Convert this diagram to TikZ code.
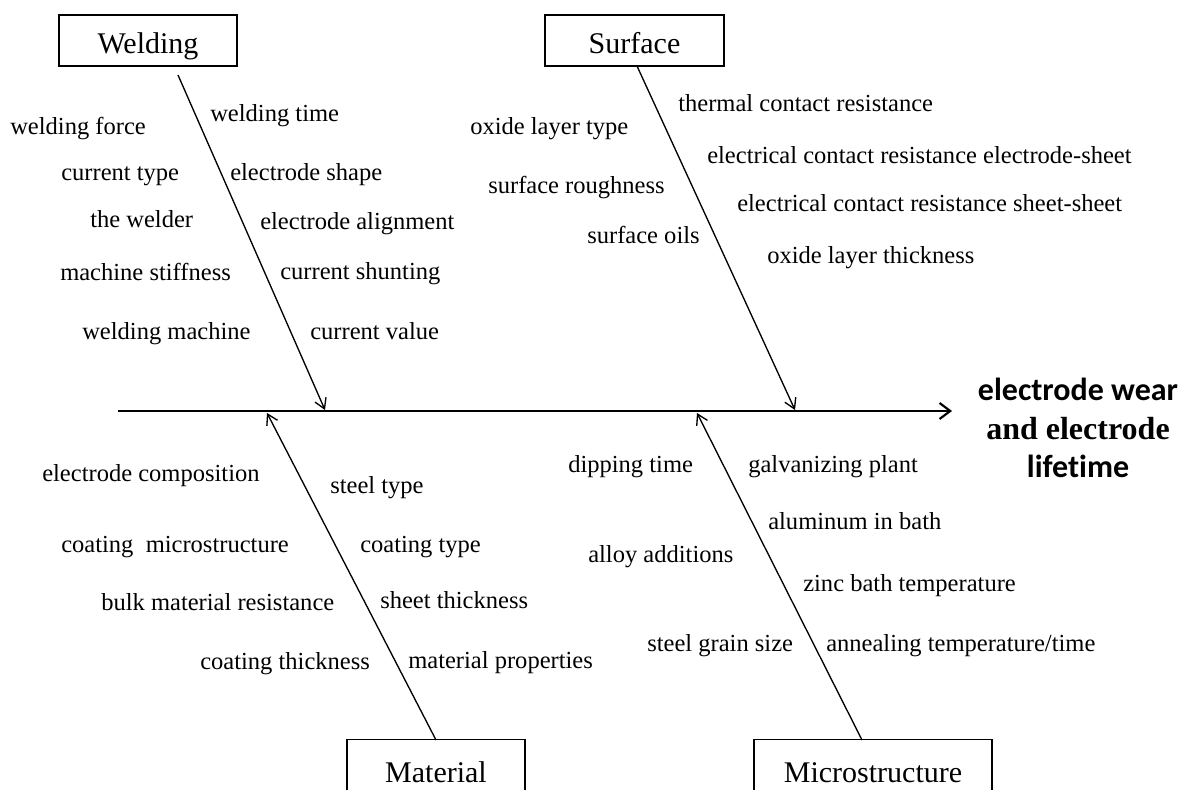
\documentclass[tikz,border=0pt]{standalone}
\usepackage{fontspec}
\setmainfont{Liberation Serif}
\newfontfamily\lblsans[Ligatures=NoCommon]{Carlito}
\usetikzlibrary{arrows.meta}
\tikzset{
  cat/.style={draw, line width=1pt, inner sep=0pt, text height=19pt, text depth=0.2pt, font=\fontsize{22.5}{26}\selectfont},
  cause/.style={anchor=west, inner sep=0pt, text height=7.2pt, text depth=2.2pt, yshift=-3pt, font=\fontsize{18.4}{22}\selectfont},
  branch/.style={line width=1pt, -{Straight Barb[length=7.5pt,width=9pt,line width=1pt]}},
  spine/.style={line width=1.9pt, -{Straight Barb[length=8pt,width=12pt,line width=1.6pt]}}
}
\begin{document}
\begin{tikzpicture}[x=0.75pt,y=-0.75pt]
\clip (0,0) rectangle (1184,789);
\fill[white] (0,0) rectangle (1184,789);

% category boxes
\node[cat, minimum width=178*0.75pt, minimum height=51*0.75pt] (wb) at (148,40.5) {Welding};
\node[cat, minimum width=179*0.75pt, minimum height=51*0.75pt] (sb) at (634.5,40.5) {Surface};
\node[cat, minimum width=178*0.75pt, minimum height=60*0.75pt] (mb) at (436,769.5) {Material};
\node[cat, minimum width=238*0.75pt, minimum height=60*0.75pt] (xb) at (873,769.5) {Microstructure};

% spine
\coordinate (s0) at (118,411);
\node[inner sep=0pt] (head) at (952,411) {};
\draw[spine] (s0) -- (head.center);

% effect label
\node[align=center, inner sep=0pt, font=\fontsize{24}{29}\selectfont] (eff) at (1078,428)
  {{\lblsans\bfseries electrode wear}\\{\bfseries and electrode}\\{\lblsans\bfseries lifetime}};

% branch endpoints
\coordinate (w0) at (178,75);  \coordinate (w1) at (325,410);
\coordinate (su0) at (637,66); \coordinate (su1) at (795,410);
\coordinate (m0) at (436,740); \coordinate (m1) at (267,413);
\coordinate (x0) at (862,740); \coordinate (x1) at (697,413);
\draw[branch] (w0) -- (w1);
\draw[branch] (su0) -- (su1);
\draw[branch] (m0) -- (m1);
\draw[branch] (x0) -- (x1);

% Welding causes
\node[cause] (w1a) at (10,127) {welding force};
\node[cause] (w2a) at (61,173) {current type};
\node[cause] (w3a) at (90,220) {the welder};
\node[cause] (w4a) at (60,273) {machine stiffness};
\node[cause] (w5a) at (82,332) {welding machine};
\node[cause] (w1b) at (210,114) {welding time};
\node[cause] (w2b) at (230,173) {electrode shape};
\node[cause] (w3b) at (260,222) {electrode alignment};
\node[cause] (w4b) at (280,272) {current shunting};
\node[cause] (w5b) at (310,332) {current value};

% Surface causes
\node[cause] (s1a) at (470,127) {oxide layer type};
\node[cause] (s2a) at (488,186) {surface roughness};
\node[cause] (s3a) at (587,236) {surface oils};
\node[cause] (s1b) at (678,104) {thermal contact resistance};
\node[cause] (s2b) at (707,156) {electrical contact resistance electrode-sheet};
\node[cause] (s3b) at (737,204) {electrical contact resistance sheet-sheet};
\node[cause] (s4b) at (767,256) {oxide layer thickness};

% Material causes
\node[cause] (m1a) at (42,474) {electrode composition};
\node[cause] (m2a) at (61,545) {coating\ \ microstructure};
\node[cause] (m3a) at (101,603) {bulk material resistance};
\node[cause] (m4a) at (200,662) {coating thickness};
\node[cause] (m1b) at (330,486) {steel type};
\node[cause] (m2b) at (360,545) {coating type};
\node[cause] (m3b) at (380,601) {sheet thickness};
\node[cause] (m4b) at (408,661) {material properties};

% Microstructure causes
\node[cause] (x1a) at (568,465) {dipping time};
\node[cause] (x2a) at (588,555) {alloy additions};
\node[cause] (x3a) at (647,644) {steel grain size};
\node[cause] (x1b) at (748,465) {galvanizing plant};
\node[cause] (x2b) at (768,522) {aluminum in bath};
\node[cause] (x3b) at (803,584) {zinc bath temperature};
\node[cause] (x4b) at (826,644) {annealing temperature/time};
\end{tikzpicture}
\end{document}
